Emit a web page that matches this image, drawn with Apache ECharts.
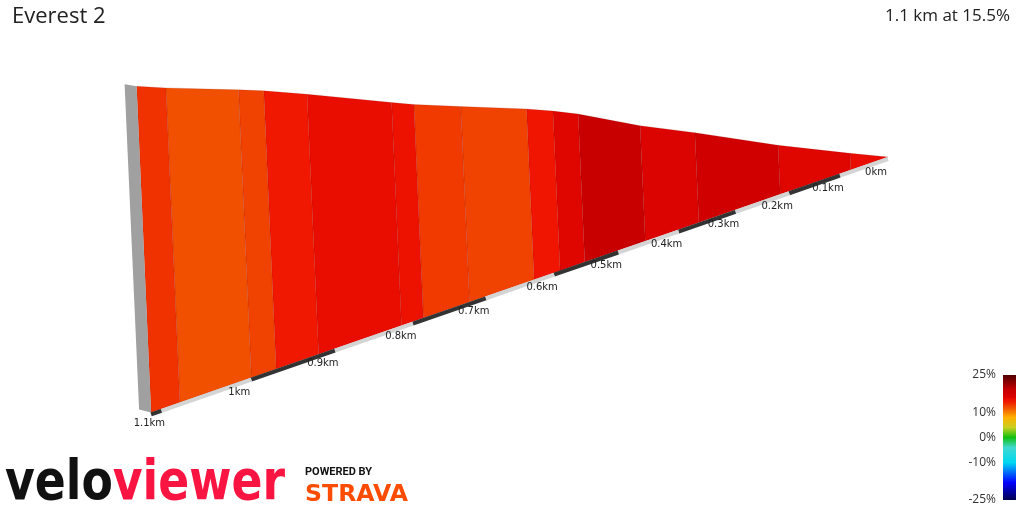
<!DOCTYPE html>
<html><head><meta charset="utf-8">
<script src="https://cdn.jsdelivr.net/npm/echarts@6/dist/echarts.min.js"></script>
<style>html,body{margin:0;padding:0;background:#fff}#c{width:1024px;height:512px}</style>
</head><body><div id="c"></div>
<script>
// segment boundaries (km from summit end) and gradients (%)
const bounds = [0,0.078,0.217,0.365,0.456,0.553,0.591,0.630,0.723,0.786,0.815,0.920,0.971,1.000,1.080,1.111];
const grades = [15.4,16,17.5,16.5,19,16,14.6,12.6,12.9,14.9,15.4,14.4,12.6,12,13.3];
const tickKm = [0,0.1,0.2,0.3,0.4,0.5,0.6,0.7,0.8,0.9,1.0,1.1];
const tickLabels = ['0km','0.1km','0.2km','0.3km','0.4km','0.5km','0.6km','0.7km','0.8km','0.9km','1km','1.1km'];
const legendTicks = [25,10,0,-10,-25];
const legendLabels = ['25%','10%','0%','-10%','-25%'];
const colorStops = [[-25,'#000050'],[-18,'#0000ff'],[-10,'#00d8f0'],[-4,'#40d8d0'],[0,'#10c010'],[4,'#c8d020'],[8,'#ffb000'],[12,'#f05000'],[13,'#f03800'],[14.5,'#f01600'],[15.5,'#e80c00'],[16,'#e00600'],[17.5,'#d00000'],[19,'#c80000'],[25,'#500000']];

const elev=[0];
for(let i=0;i<grades.length;i++) elev.push(elev[i]+grades[i]*(bounds[i+1]-bounds[i])*10);

function hex(c){return [parseInt(c.substr(1,2),16),parseInt(c.substr(3,2),16),parseInt(c.substr(5,2),16)];}
function colorAt(g){
  for(let i=0;i<colorStops.length-1;i++){
    const [g0,c0]=colorStops[i],[g1,c1]=colorStops[i+1];
    if(g>=g0&&g<=g1){const t=(g-g0)/(g1-g0);const a=hex(c0),b=hex(c1);
      return 'rgb('+a.map((v,j)=>Math.round(v+(b[j]-v)*t)).join(',')+')';}
  }
  return colorStops[colorStops.length-1][1];
}
const samples=[];for(let g=-25;g<=25.001;g+=0.5)samples.push(colorAt(g));

const segData = grades.map((g,i)=>[bounds[i],bounds[i+1],g,elev[i],elev[i+1]]);
const L = bounds[bounds.length-1];
const K=0.265, XS=468, YS=1.35;
function proj(api,d,e,dx,dy){const f=1/(1-K*d);const p=d*f,h=e*f;
  const pt=api.coord([p+0.06/XS*h,h-162.2/YS*p]);return [pt[0]+(dx||0),pt[1]+(dy||0)];}

function measure(text,font){const c=document.createElement('canvas').getContext('2d');c.font=font;return c.measureText(text).width;}
const logoFont='bold 55px "DejaVu Sans"';
const logoW=measure('veloviewer',logoFont);
const stravaFont='900 23px "DejaVu Sans"';
const stravaW=measure('STRAVA',stravaFont);

const chart=echarts.init(document.getElementById('c'));
const gradStops=[];for(let g=25;g>=-25;g-=1)gradStops.push({offset:(25-g)/50,color:colorAt(g)});
const graphics=[
 {type:'text',left:12,top:6,style:{text:'Everest 2',font:'22px "Open Sans"',fill:'#222'}},
 {type:'text',right:14,top:8,style:{text:'1.1 km at 15.5%',font:'17px "Open Sans"',fill:'#222'}},
 {type:'rect',shape:{x:1003,y:375,width:13,height:125},style:{fill:new echarts.graphic.LinearGradient(0,0,0,1,gradStops)}},
 {type:'text',x:5,y:512,scaleX:280/logoW,style:{rich:{a:{font:logoFont,fill:'#111'},b:{font:logoFont,fill:'#fa1441'}},text:'{a|velo}{b|viewer}',verticalAlign:'bottom'}},
 {type:'text',left:305,top:467,style:{text:'POWERED BY',font:'bold 11px Roboto',fill:'#111'}},
 {type:'text',x:305,y:507,scaleX:103/stravaW,style:{text:'STRAVA',font:stravaFont,fill:'#fc4c02',verticalAlign:'bottom'}}
];
legendTicks.forEach((g,i)=>graphics.push({type:'text',x:996,y:375+(25-g)*2.5,style:{text:legendLabels[i],font:'12px "Open Sans"',fill:'#333',align:'right',verticalAlign:'middle'}}));

chart.setOption({
 animation:false,
 graphic:graphics,
 grid:{left:888-XS*1.6,right:136,top:157-60*YS,bottom:512-(157+200*YS)},
 xAxis:{type:'value',inverse:true,min:0,max:1.6,show:false},
 yAxis:{type:'value',min:-200,max:60,show:false},
 visualMap:{show:false,type:'continuous',min:-25,max:25,dimension:2,seriesIndex:0,inRange:{color:samples}},
 series:[
  {type:'custom',data:segData,renderItem:function(params,api){
    const d0=api.value(0),d1=api.value(1),e0=api.value(3),e1=api.value(4);
    return {type:'polygon',shape:{points:[proj(api,d0,0),proj(api,d1,0),proj(api,d1,e1),proj(api,d0,e0)]},
      style:{fill:api.visual('color'),stroke:'rgba(120,0,0,0.25)',lineWidth:0.6}};
  }},
  {type:'custom',data:[[L,elev[elev.length-1]]],renderItem:function(params,api){
    const d=api.value(0),e=api.value(1);
    const b=proj(api,d,0),t=proj(api,d,e);
    return {type:'polygon',shape:{points:[b,t,[t[0]-12,t[1]-2],[b[0]-12,b[1]-3]]},style:{fill:'#a0a0a0'}};
  }},
  {type:'custom',data:tickKm.map((d,i)=>[d,Math.min(d+0.1,L),i]),renderItem:function(params,api){
    const d0=api.value(0),d1=api.value(1),i=api.value(2);
    const a=proj(api,d0,0,0,2),b=proj(api,d1,0,0,2);
    const lp=proj(api,d0,0);
    return {type:'group',children:[
      {type:'line',shape:{x1:a[0],y1:a[1],x2:b[0],y2:b[1]},style:{stroke:i%2?'#333':'#d4d4d4',lineWidth:4}},
      {type:'text',x:lp[0]-12,y:lp[1]+15,style:{text:tickLabels[i],font:'10px "DejaVu Sans"',fill:'#222',align:'center',verticalAlign:'middle'}}
    ]};
  }}
 ]
});
</script></body></html>
